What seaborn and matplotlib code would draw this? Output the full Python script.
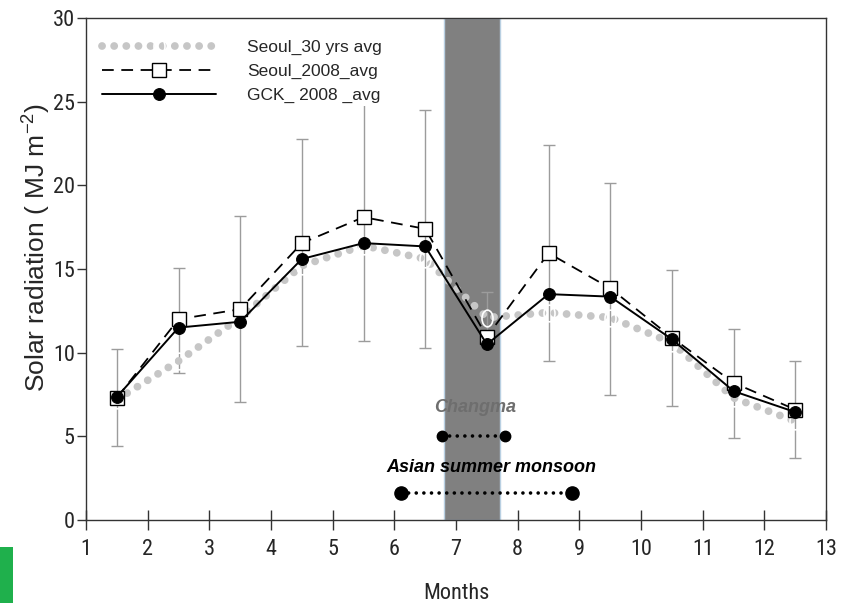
import numpy as np
import pandas as pd
import seaborn as sns
import matplotlib
matplotlib.use("Agg")
import matplotlib.pyplot as plt
from matplotlib.path import Path
from matplotlib.transforms import Affine2D
from matplotlib.patches import Rectangle

# Monthly mid-points
months = [1.5, 2.5, 3.5, 4.5, 5.5, 6.5, 7.5, 8.5, 9.5, 10.5, 11.5, 12.5]

# Mean daily solar radiation (MJ m-2)
seoul_30yr = [7.2, 9.5, 12.1, 15.2, 16.4, 15.6, 12.1, 12.4, 12.1, 10.6, 7.3, 5.9]
seoul_2008 = [7.3, 12.0, 12.6, 16.55, 18.1, 17.4, 10.95, 15.95, 13.85, 10.9, 8.2, 6.6]
gck_2008 = [7.35, 11.5, 11.85, 15.6, 16.55, 16.35, 10.5, 13.5, 13.35, 10.8, 7.7, 6.45]

# Range of daily values around the Seoul 2008 mean
err_low = [4.4, 8.8, 7.05, 10.4, 10.7, 10.3, 10.95, 9.5, 7.5, 6.8, 4.9, 3.7]
err_high = [10.25, 15.05, 18.15, 22.75, 25.6, 24.5, 13.6, 22.4, 20.15, 14.95, 11.4, 9.5]

# Rainy season periods (month axis)
changma_span = [6.8, 7.72]
changma_bar = [6.77, 7.8]
monsoon_bar = [6.1, 8.88]

x_ticks = list(range(1, 14))
y_ticks = [0, 5, 10, 15, 20, 25, 30]

df = pd.DataFrame({"month": months, "s30": seoul_30yr,
                   "s08": seoul_2008, "gck": gck_2008})

sns.set_theme(style="white")
plt.rcParams["font.family"] = ["Liberation Sans", "DejaVu Sans"]
plt.rcParams["mathtext.default"] = "regular"
narrow = ["Roboto Condensed", "Liberation Sans", "DejaVu Sans"]

fig = plt.figure(figsize=(8.43, 6.03), dpi=100)
ax = fig.add_axes([0.102, 0.1376, 0.878, 0.8325])

# Shaded Changma period
ax.axvspan(changma_span[0], changma_span[1], facecolor="#808080",
           edgecolor="#b9d0e2", lw=1.0, zorder=1)

# Error bars
center = np.array(seoul_2008)
yerr = [center - np.array(err_low), np.array(err_high) - center]
ax.errorbar(months, seoul_2008, yerr=yerr, fmt="none", ecolor="#9c9c9c",
            elinewidth=1.0, capsize=4.3, capthick=1.0, zorder=2)

# Elliptical open marker for the 30-year series
ellipse = Path.unit_circle().transformed(Affine2D().scale(0.66, 1.0))

sns.lineplot(data=df, x="month", y="s30", ax=ax, color="#c6c6c6",
             lw=5.6, linestyle=(0, (0.01, 1.55)), dash_capstyle="round",
             marker=ellipse, markersize=12, markerfacecolor="none",
             markeredgecolor="white", markeredgewidth=1.2,
             label="Seoul_30 yrs avg", zorder=3)
sns.lineplot(data=df, x="month", y="s08", ax=ax, color="black",
             lw=1.3, linestyle=(0, (6.5, 4.2)), marker="s", markersize=10,
             markerfacecolor="white", markeredgecolor="black",
             markeredgewidth=1.0, label="Seoul_2008_avg", zorder=5)
sns.lineplot(data=df, x="month", y="gck", ax=ax, color="black",
             lw=1.4, marker="o", markersize=8.5, markerfacecolor="black",
             markeredgecolor="black", label="GCK_ 2008 _avg", zorder=6)

# Season bars
ax.plot(changma_bar, [5.0, 5.0], color="black", lw=2.6,
        linestyle=(0, (0.01, 2.1)), dash_capstyle="round", zorder=7)
ax.plot(changma_bar, [5.0, 5.0], "o", color="black", ms=7.5, zorder=7)
ax.plot(monsoon_bar, [1.6, 1.6], color="black", lw=2.6,
        linestyle=(0, (0.01, 2.1)), dash_capstyle="round", zorder=7)
ax.plot(monsoon_bar, [1.6, 1.6], "o", color="black", ms=9.5, zorder=7)
ax.text(np.mean(changma_bar) + 0.02, 6.75, "Changma", color="#6e6e6e",
        fontsize=13, fontweight="bold", fontstyle="italic",
        ha="center", va="center", zorder=8)
ax.text(7.57, 3.15, "Asian summer monsoon", color="black",
        fontsize=13, fontweight="bold", fontstyle="italic",
        ha="center", va="center", zorder=8)

ax.set_xlim(1, 13)
ax.set_ylim(0, 30)
ax.set_xticks(x_ticks)
ax.set_yticks(y_ticks)
ax.set_xticklabels([str(t) for t in x_ticks], family=narrow, fontsize=16)
ax.set_yticklabels([str(t) for t in y_ticks], family=narrow, fontsize=16)
ax.tick_params(axis="x", direction="inout", length=14, width=1.0,
               color="#333333", pad=7, bottom=True)
ax.tick_params(axis="y", direction="out", length=6.5, width=1.0,
               color="#333333", pad=1.5, left=True)
for sp in ax.spines.values():
    sp.set_color("#333333")
    sp.set_linewidth(1.0)
    sp.set_visible(True)

ax.set_xlabel("Months", family=narrow, fontsize=16, labelpad=16)
ax.set_ylabel("Solar radiation ( MJ m$^{-2}$)", fontsize=19)
ax.yaxis.set_label_coords(-0.0445, 0.544)

leg = ax.legend(loc="upper left", bbox_to_anchor=(0.018, 0.962),
                fontsize=12.5, handlelength=6.6, handletextpad=1.75,
                labelspacing=0.5, borderpad=0.15, borderaxespad=0,
                frameon=True, fancybox=False)
leg.get_frame().set_facecolor("white")
leg.get_frame().set_edgecolor("none")
leg.get_frame().set_alpha(1.0)
leg.set_zorder(10)

# Green tab at the lower-left edge
fig.patches.append(Rectangle((0, 0), 13 / 843, 56 / 603,
                             transform=fig.transFigure,
                             facecolor="#1fb04c", edgecolor="none"))

fig.savefig("out.png", dpi=100)
